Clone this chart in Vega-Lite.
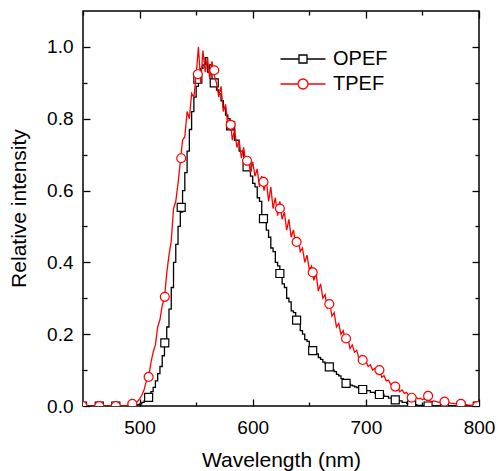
{
  "$schema": "https://vega.github.io/schema/vega-lite/v6.json",
  "width": 396,
  "height": 395,
  "autosize": {"type": "none"},
  "padding": {"left": 83, "top": 11, "right": 19, "bottom": 65},
  "config": {
    "font": "Liberation Sans",
    "view": {"stroke": "black", "strokeWidth": 1.5},
    "axis": {
      "grid": false,
      "domain": false,
      "tickColor": "black",
      "tickWidth": 1.3,
      "labelColor": "black",
      "labelFont": "Liberation Sans",
      "labelFontSize": 19,
      "labelOverlap": false,
      "labelFlush": false,
      "titleFont": "Liberation Sans",
      "titleFontSize": 21,
      "titleFontWeight": "normal",
      "titleColor": "black"
    }
  },
  "datasets": {
    "lines": [
      {"w": 450, "v": 0, "s": "OPEF"}, {"w": 470, "v": 0, "s": "OPEF"}, {"w": 490, "v": 0, "s": "OPEF"},
      {"w": 494, "v": 0.001, "s": "OPEF"}, {"w": 496, "v": 0.002, "s": "OPEF"}, {"w": 498, "v": 0.004, "s": "OPEF"},
      {"w": 500, "v": 0.006, "s": "OPEF"}, {"w": 502, "v": 0.01, "s": "OPEF"}, {"w": 504, "v": 0.014, "s": "OPEF"},
      {"w": 506, "v": 0.02, "s": "OPEF"}, {"w": 508, "v": 0.026, "s": "OPEF"}, {"w": 510, "v": 0.04, "s": "OPEF"},
      {"w": 512, "v": 0.052, "s": "OPEF"}, {"w": 514, "v": 0.07, "s": "OPEF"}, {"w": 516, "v": 0.09, "s": "OPEF"},
      {"w": 518, "v": 0.11, "s": "OPEF"}, {"w": 520, "v": 0.14, "s": "OPEF"}, {"w": 522, "v": 0.17, "s": "OPEF"},
      {"w": 524, "v": 0.22, "s": "OPEF"}, {"w": 526, "v": 0.27, "s": "OPEF"}, {"w": 528, "v": 0.33, "s": "OPEF"},
      {"w": 530, "v": 0.4, "s": "OPEF"}, {"w": 532, "v": 0.45, "s": "OPEF"}, {"w": 534, "v": 0.5, "s": "OPEF"},
      {"w": 536, "v": 0.54, "s": "OPEF"}, {"w": 538, "v": 0.6, "s": "OPEF"}, {"w": 540, "v": 0.65, "s": "OPEF"},
      {"w": 542, "v": 0.71, "s": "OPEF"}, {"w": 544, "v": 0.77, "s": "OPEF"}, {"w": 546, "v": 0.82, "s": "OPEF"},
      {"w": 548, "v": 0.86, "s": "OPEF"}, {"w": 550, "v": 0.89, "s": "OPEF"}, {"w": 552, "v": 0.91, "s": "OPEF"},
      {"w": 554, "v": 0.94, "s": "OPEF"}, {"w": 556, "v": 0.95, "s": "OPEF"}, {"w": 558, "v": 0.97, "s": "OPEF"},
      {"w": 560, "v": 0.93, "s": "OPEF"}, {"w": 562, "v": 0.95, "s": "OPEF"}, {"w": 564, "v": 0.9, "s": "OPEF"},
      {"w": 566, "v": 0.91, "s": "OPEF"}, {"w": 568, "v": 0.88, "s": "OPEF"}, {"w": 570, "v": 0.87, "s": "OPEF"},
      {"w": 572, "v": 0.85, "s": "OPEF"}, {"w": 574, "v": 0.83, "s": "OPEF"}, {"w": 576, "v": 0.81, "s": "OPEF"},
      {"w": 578, "v": 0.8, "s": "OPEF"}, {"w": 580, "v": 0.77, "s": "OPEF"}, {"w": 582, "v": 0.77, "s": "OPEF"},
      {"w": 584, "v": 0.74, "s": "OPEF"}, {"w": 586, "v": 0.74, "s": "OPEF"}, {"w": 588, "v": 0.71, "s": "OPEF"},
      {"w": 590, "v": 0.71, "s": "OPEF"}, {"w": 592, "v": 0.68, "s": "OPEF"}, {"w": 594, "v": 0.67, "s": "OPEF"},
      {"w": 596, "v": 0.665, "s": "OPEF"}, {"w": 598, "v": 0.64, "s": "OPEF"}, {"w": 600, "v": 0.62, "s": "OPEF"},
      {"w": 602, "v": 0.61, "s": "OPEF"}, {"w": 604, "v": 0.58, "s": "OPEF"}, {"w": 606, "v": 0.57, "s": "OPEF"},
      {"w": 608, "v": 0.53, "s": "OPEF"}, {"w": 610, "v": 0.52, "s": "OPEF"}, {"w": 612, "v": 0.49, "s": "OPEF"},
      {"w": 614, "v": 0.47, "s": "OPEF"}, {"w": 616, "v": 0.44, "s": "OPEF"}, {"w": 618, "v": 0.43, "s": "OPEF"},
      {"w": 620, "v": 0.4, "s": "OPEF"}, {"w": 622, "v": 0.39, "s": "OPEF"}, {"w": 624, "v": 0.37, "s": "OPEF"},
      {"w": 626, "v": 0.34, "s": "OPEF"}, {"w": 628, "v": 0.33, "s": "OPEF"}, {"w": 630, "v": 0.3, "s": "OPEF"},
      {"w": 632, "v": 0.29, "s": "OPEF"}, {"w": 634, "v": 0.265, "s": "OPEF"}, {"w": 636, "v": 0.26, "s": "OPEF"},
      {"w": 638, "v": 0.24, "s": "OPEF"}, {"w": 640, "v": 0.23, "s": "OPEF"}, {"w": 642, "v": 0.21, "s": "OPEF"},
      {"w": 644, "v": 0.2, "s": "OPEF"}, {"w": 646, "v": 0.185, "s": "OPEF"}, {"w": 648, "v": 0.18, "s": "OPEF"},
      {"w": 650, "v": 0.165, "s": "OPEF"}, {"w": 652, "v": 0.16, "s": "OPEF"}, {"w": 654, "v": 0.15, "s": "OPEF"},
      {"w": 656, "v": 0.145, "s": "OPEF"}, {"w": 658, "v": 0.135, "s": "OPEF"}, {"w": 660, "v": 0.13, "s": "OPEF"},
      {"w": 662, "v": 0.122, "s": "OPEF"}, {"w": 664, "v": 0.118, "s": "OPEF"}, {"w": 666, "v": 0.11, "s": "OPEF"},
      {"w": 668, "v": 0.108, "s": "OPEF"}, {"w": 670, "v": 0.1, "s": "OPEF"}, {"w": 672, "v": 0.096, "s": "OPEF"},
      {"w": 674, "v": 0.088, "s": "OPEF"}, {"w": 676, "v": 0.084, "s": "OPEF"}, {"w": 678, "v": 0.076, "s": "OPEF"},
      {"w": 680, "v": 0.072, "s": "OPEF"}, {"w": 682, "v": 0.064, "s": "OPEF"}, {"w": 684, "v": 0.062, "s": "OPEF"},
      {"w": 686, "v": 0.058, "s": "OPEF"}, {"w": 688, "v": 0.056, "s": "OPEF"}, {"w": 690, "v": 0.053, "s": "OPEF"},
      {"w": 692, "v": 0.051, "s": "OPEF"}, {"w": 694, "v": 0.048, "s": "OPEF"}, {"w": 696, "v": 0.047, "s": "OPEF"},
      {"w": 698, "v": 0.044, "s": "OPEF"}, {"w": 700, "v": 0.043, "s": "OPEF"}, {"w": 704, "v": 0.038, "s": "OPEF"},
      {"w": 708, "v": 0.035, "s": "OPEF"}, {"w": 712, "v": 0.032, "s": "OPEF"}, {"w": 716, "v": 0.027, "s": "OPEF"},
      {"w": 720, "v": 0.022, "s": "OPEF"}, {"w": 724, "v": 0.018, "s": "OPEF"}, {"w": 728, "v": 0.014, "s": "OPEF"},
      {"w": 732, "v": 0.01, "s": "OPEF"}, {"w": 736, "v": 0.007, "s": "OPEF"}, {"w": 740, "v": 0.004, "s": "OPEF"},
      {"w": 745, "v": 0.002, "s": "OPEF"}, {"w": 750, "v": 0.001, "s": "OPEF"}, {"w": 755, "v": 0, "s": "OPEF"},
      {"w": 780, "v": 0, "s": "OPEF"}, {"w": 800, "v": 0, "s": "OPEF"},
      {"w": 450, "v": 0, "s": "TPEF"}, {"w": 470, "v": 0, "s": "TPEF"}, {"w": 490, "v": 0, "s": "TPEF"},
      {"w": 492, "v": 0.004, "s": "TPEF"}, {"w": 494, "v": 0.006, "s": "TPEF"}, {"w": 496, "v": 0.008, "s": "TPEF"},
      {"w": 498, "v": 0.012, "s": "TPEF"}, {"w": 500, "v": 0.02, "s": "TPEF"}, {"w": 502, "v": 0.03, "s": "TPEF"},
      {"w": 504, "v": 0.045, "s": "TPEF"}, {"w": 506, "v": 0.07, "s": "TPEF"}, {"w": 508, "v": 0.08, "s": "TPEF"},
      {"w": 510, "v": 0.12, "s": "TPEF"}, {"w": 512, "v": 0.15, "s": "TPEF"}, {"w": 514, "v": 0.17, "s": "TPEF"},
      {"w": 516, "v": 0.22, "s": "TPEF"}, {"w": 518, "v": 0.24, "s": "TPEF"}, {"w": 520, "v": 0.28, "s": "TPEF"},
      {"w": 522, "v": 0.3, "s": "TPEF"}, {"w": 524, "v": 0.37, "s": "TPEF"}, {"w": 526, "v": 0.42, "s": "TPEF"},
      {"w": 528, "v": 0.46, "s": "TPEF"}, {"w": 530, "v": 0.55, "s": "TPEF"}, {"w": 532, "v": 0.57, "s": "TPEF"},
      {"w": 534, "v": 0.62, "s": "TPEF"}, {"w": 536, "v": 0.68, "s": "TPEF"}, {"w": 538, "v": 0.74, "s": "TPEF"},
      {"w": 540, "v": 0.75, "s": "TPEF"}, {"w": 542, "v": 0.82, "s": "TPEF"}, {"w": 544, "v": 0.8, "s": "TPEF"},
      {"w": 546, "v": 0.87, "s": "TPEF"}, {"w": 548, "v": 0.86, "s": "TPEF"}, {"w": 550, "v": 0.92, "s": "TPEF"},
      {"w": 552, "v": 1.0, "s": "TPEF"}, {"w": 554, "v": 0.9, "s": "TPEF"}, {"w": 556, "v": 0.99, "s": "TPEF"},
      {"w": 558, "v": 0.93, "s": "TPEF"}, {"w": 560, "v": 0.97, "s": "TPEF"}, {"w": 562, "v": 0.91, "s": "TPEF"},
      {"w": 564, "v": 0.96, "s": "TPEF"}, {"w": 566, "v": 0.92, "s": "TPEF"}, {"w": 568, "v": 0.9, "s": "TPEF"},
      {"w": 570, "v": 0.86, "s": "TPEF"}, {"w": 572, "v": 0.89, "s": "TPEF"}, {"w": 574, "v": 0.82, "s": "TPEF"},
      {"w": 576, "v": 0.84, "s": "TPEF"}, {"w": 578, "v": 0.78, "s": "TPEF"}, {"w": 580, "v": 0.8, "s": "TPEF"},
      {"w": 582, "v": 0.74, "s": "TPEF"}, {"w": 584, "v": 0.77, "s": "TPEF"}, {"w": 586, "v": 0.72, "s": "TPEF"},
      {"w": 588, "v": 0.74, "s": "TPEF"}, {"w": 590, "v": 0.69, "s": "TPEF"}, {"w": 592, "v": 0.72, "s": "TPEF"},
      {"w": 594, "v": 0.67, "s": "TPEF"}, {"w": 596, "v": 0.69, "s": "TPEF"}, {"w": 598, "v": 0.65, "s": "TPEF"},
      {"w": 600, "v": 0.68, "s": "TPEF"}, {"w": 602, "v": 0.64, "s": "TPEF"}, {"w": 604, "v": 0.66, "s": "TPEF"},
      {"w": 606, "v": 0.61, "s": "TPEF"}, {"w": 608, "v": 0.64, "s": "TPEF"}, {"w": 610, "v": 0.6, "s": "TPEF"},
      {"w": 612, "v": 0.63, "s": "TPEF"}, {"w": 614, "v": 0.57, "s": "TPEF"}, {"w": 616, "v": 0.61, "s": "TPEF"},
      {"w": 618, "v": 0.55, "s": "TPEF"}, {"w": 620, "v": 0.58, "s": "TPEF"}, {"w": 622, "v": 0.53, "s": "TPEF"},
      {"w": 624, "v": 0.57, "s": "TPEF"}, {"w": 626, "v": 0.52, "s": "TPEF"}, {"w": 628, "v": 0.54, "s": "TPEF"},
      {"w": 630, "v": 0.49, "s": "TPEF"}, {"w": 632, "v": 0.52, "s": "TPEF"}, {"w": 634, "v": 0.47, "s": "TPEF"},
      {"w": 636, "v": 0.49, "s": "TPEF"}, {"w": 638, "v": 0.45, "s": "TPEF"}, {"w": 640, "v": 0.47, "s": "TPEF"},
      {"w": 642, "v": 0.43, "s": "TPEF"}, {"w": 644, "v": 0.44, "s": "TPEF"}, {"w": 646, "v": 0.4, "s": "TPEF"},
      {"w": 648, "v": 0.42, "s": "TPEF"}, {"w": 650, "v": 0.38, "s": "TPEF"}, {"w": 652, "v": 0.39, "s": "TPEF"},
      {"w": 654, "v": 0.35, "s": "TPEF"}, {"w": 656, "v": 0.37, "s": "TPEF"}, {"w": 658, "v": 0.32, "s": "TPEF"},
      {"w": 660, "v": 0.34, "s": "TPEF"}, {"w": 662, "v": 0.3, "s": "TPEF"}, {"w": 664, "v": 0.31, "s": "TPEF"},
      {"w": 666, "v": 0.27, "s": "TPEF"}, {"w": 668, "v": 0.29, "s": "TPEF"}, {"w": 670, "v": 0.25, "s": "TPEF"},
      {"w": 672, "v": 0.26, "s": "TPEF"}, {"w": 674, "v": 0.22, "s": "TPEF"}, {"w": 676, "v": 0.23, "s": "TPEF"},
      {"w": 678, "v": 0.2, "s": "TPEF"}, {"w": 680, "v": 0.21, "s": "TPEF"}, {"w": 682, "v": 0.18, "s": "TPEF"},
      {"w": 684, "v": 0.19, "s": "TPEF"}, {"w": 686, "v": 0.16, "s": "TPEF"}, {"w": 688, "v": 0.17, "s": "TPEF"},
      {"w": 690, "v": 0.15, "s": "TPEF"}, {"w": 692, "v": 0.155, "s": "TPEF"}, {"w": 694, "v": 0.13, "s": "TPEF"},
      {"w": 696, "v": 0.14, "s": "TPEF"}, {"w": 698, "v": 0.12, "s": "TPEF"}, {"w": 700, "v": 0.125, "s": "TPEF"},
      {"w": 702, "v": 0.11, "s": "TPEF"}, {"w": 704, "v": 0.115, "s": "TPEF"}, {"w": 706, "v": 0.1, "s": "TPEF"},
      {"w": 708, "v": 0.105, "s": "TPEF"}, {"w": 710, "v": 0.09, "s": "TPEF"}, {"w": 712, "v": 0.1, "s": "TPEF"},
      {"w": 714, "v": 0.08, "s": "TPEF"}, {"w": 716, "v": 0.085, "s": "TPEF"}, {"w": 718, "v": 0.07, "s": "TPEF"},
      {"w": 720, "v": 0.072, "s": "TPEF"}, {"w": 722, "v": 0.06, "s": "TPEF"}, {"w": 724, "v": 0.062, "s": "TPEF"},
      {"w": 726, "v": 0.05, "s": "TPEF"}, {"w": 728, "v": 0.052, "s": "TPEF"}, {"w": 730, "v": 0.04, "s": "TPEF"},
      {"w": 732, "v": 0.045, "s": "TPEF"}, {"w": 734, "v": 0.035, "s": "TPEF"}, {"w": 736, "v": 0.038, "s": "TPEF"},
      {"w": 738, "v": 0.028, "s": "TPEF"}, {"w": 740, "v": 0.03, "s": "TPEF"}, {"w": 742, "v": 0.022, "s": "TPEF"},
      {"w": 744, "v": 0.025, "s": "TPEF"}, {"w": 746, "v": 0.02, "s": "TPEF"}, {"w": 748, "v": 0.022, "s": "TPEF"},
      {"w": 750, "v": 0.018, "s": "TPEF"}, {"w": 752, "v": 0.02, "s": "TPEF"}, {"w": 754, "v": 0.015, "s": "TPEF"},
      {"w": 756, "v": 0.016, "s": "TPEF"}, {"w": 758, "v": 0.012, "s": "TPEF"}, {"w": 760, "v": 0.014, "s": "TPEF"},
      {"w": 765, "v": 0.01, "s": "TPEF"}, {"w": 770, "v": 0.012, "s": "TPEF"}, {"w": 775, "v": 0.008, "s": "TPEF"},
      {"w": 780, "v": 0.006, "s": "TPEF"}, {"w": 785, "v": 0.005, "s": "TPEF"}, {"w": 790, "v": 0.003, "s": "TPEF"},
      {"w": 795, "v": 0.002, "s": "TPEF"}, {"w": 800, "v": 0, "s": "TPEF"}
    ],
    "marks": [
      {"w": 449.6, "v": 0, "s": "OPEF"}, {"w": 464.4, "v": 0, "s": "OPEF"}, {"w": 479, "v": 0, "s": "OPEF"},
      {"w": 493.6, "v": 0, "s": "OPEF"}, {"w": 508, "v": 0.024, "s": "OPEF"}, {"w": 522.3, "v": 0.176, "s": "OPEF"},
      {"w": 536.8, "v": 0.553, "s": "OPEF"}, {"w": 551.5, "v": 0.91, "s": "OPEF"}, {"w": 566, "v": 0.9, "s": "OPEF"},
      {"w": 580.5, "v": 0.78, "s": "OPEF"}, {"w": 595, "v": 0.666, "s": "OPEF"}, {"w": 609.5, "v": 0.522, "s": "OPEF"},
      {"w": 624, "v": 0.369, "s": "OPEF"}, {"w": 638.8, "v": 0.239, "s": "OPEF"}, {"w": 653, "v": 0.154, "s": "OPEF"},
      {"w": 667.7, "v": 0.109, "s": "OPEF"}, {"w": 682.5, "v": 0.063, "s": "OPEF"}, {"w": 697.2, "v": 0.046, "s": "OPEF"},
      {"w": 712, "v": 0.032, "s": "OPEF"}, {"w": 726, "v": 0.017, "s": "OPEF"}, {"w": 740.5, "v": 0.003, "s": "OPEF"},
      {"w": 755, "v": 0, "s": "OPEF"}, {"w": 769.5, "v": 0, "s": "OPEF"}, {"w": 784, "v": 0, "s": "OPEF"},
      {"w": 798.5, "v": 0, "s": "OPEF"},
      {"w": 449.6, "v": 0, "s": "TPEF"}, {"w": 464.4, "v": 0, "s": "TPEF"}, {"w": 479, "v": 0, "s": "TPEF"},
      {"w": 493.6, "v": 0.006, "s": "TPEF"}, {"w": 508, "v": 0.081, "s": "TPEF"}, {"w": 522.3, "v": 0.304, "s": "TPEF"},
      {"w": 536.8, "v": 0.69, "s": "TPEF"}, {"w": 551.5, "v": 0.924, "s": "TPEF"}, {"w": 566, "v": 0.935, "s": "TPEF"},
      {"w": 580.5, "v": 0.783, "s": "TPEF"}, {"w": 595, "v": 0.683, "s": "TPEF"}, {"w": 609.5, "v": 0.624, "s": "TPEF"},
      {"w": 624, "v": 0.55, "s": "TPEF"}, {"w": 638.8, "v": 0.457, "s": "TPEF"}, {"w": 653, "v": 0.372, "s": "TPEF"},
      {"w": 667.7, "v": 0.284, "s": "TPEF"}, {"w": 682.5, "v": 0.188, "s": "TPEF"}, {"w": 697.2, "v": 0.128, "s": "TPEF"},
      {"w": 712, "v": 0.1, "s": "TPEF"}, {"w": 726, "v": 0.054, "s": "TPEF"}, {"w": 740.5, "v": 0.023, "s": "TPEF"},
      {"w": 755, "v": 0.028, "s": "TPEF"}, {"w": 769.5, "v": 0.012, "s": "TPEF"}, {"w": 784, "v": 0.006, "s": "TPEF"},
      {"w": 798.5, "v": 0, "s": "TPEF"}
    ]
  },
  "resolve": {"axis": {"x": "independent", "y": "independent"}},
  "layer": [
    {
      "data": {"name": "lines"},
      "transform": [{"filter": "datum.s === 'OPEF'"}],
      "mark": {"type": "line", "interpolate": "step-after", "strokeWidth": 1.3, "clip": true},
      "encoding": {
        "x": {"field": "w", "type": "quantitative", "scale": {"domain": [450, 800], "nice": false, "zero": false},
          "axis": {"orient": "bottom", "title": "Wavelength (nm)", "values": [500, 600, 700, 800], "format": "d",
            "ticks": false, "tickSize": 0, "labelPadding": 12,
            "titleX": 198, "titleY": 60, "titleBaseline": "alphabetic", "titleAlign": "center"}},
        "y": {"field": "v", "type": "quantitative", "scale": {"domain": [0, 1.1], "nice": false},
          "axis": {"orient": "left", "title": "Relative intensity", "values": [0, 0.2, 0.4, 0.6, 0.8, 1.0], "format": ".1f",
            "ticks": false, "tickSize": 0, "labelPadding": 10,
            "titleX": -58, "titleY": 197, "titleBaseline": "alphabetic", "titleAlign": "center", "titleAngle": -90}},
        "stroke": {"field": "s", "type": "nominal", "scale": {"domain": ["OPEF", "TPEF"], "range": ["black", "#ff0000"]},
          "legend": {"orient": "none", "legendX": 209, "legendY": 37, "title": null, "symbolSize": 400,
            "labelFontSize": 20, "labelFont": "Liberation Sans", "labelColor": "black", "labelOffset": 19, "rowPadding": 4, "padding": 0,
            "encode": {"symbols": {"update": {
              "shape": {"signal": "datum.value === 'OPEF' ? 'M-2.25,0H-0.4M0.4,0H2.25M-0.4,-0.4H0.4V0.4H-0.4Z' : 'M-2.25,0H-0.5M0.5,0H2.25M-0.5,0A0.5,0.5 0 1,0 0.5,0A0.5,0.5 0 1,0 -0.5,0Z'"},
              "fill": {"value": "white"}, "fillOpacity": {"value": 1}, "strokeWidth": {"value": 1.3}, "opacity": {"value": 1}}}}}}
      }
    },
    {
      "data": {"name": "marks"},
      "transform": [{"filter": "datum.s === 'OPEF'"}],
      "mark": {"type": "point", "shape": "square", "size": 64, "fill": "white", "fillOpacity": 1, "opacity": 1, "strokeWidth": 1.2, "clip": true},
      "encoding": {
        "x": {"field": "w", "type": "quantitative", "scale": {"domain": [450, 800], "nice": false, "zero": false},
          "axis": {"orient": "top", "offset": -395, "title": null, "labels": false, "values": [500, 600, 700, 800], "tickSize": 7}},
        "y": {"field": "v", "type": "quantitative", "scale": {"domain": [0, 1.1], "nice": false},
          "axis": {"orient": "right", "offset": -396, "title": null, "labels": false, "values": [0, 0.2, 0.4, 0.6, 0.8, 1.0], "tickSize": 7}},
        "stroke": {"field": "s", "type": "nominal", "scale": {"domain": ["OPEF", "TPEF"], "range": ["black", "#ff0000"]},
          "legend": {"orient": "none", "legendX": 209, "legendY": 37, "title": null, "symbolSize": 400,
            "labelFontSize": 20, "labelFont": "Liberation Sans", "labelColor": "black", "labelOffset": 19, "rowPadding": 4, "padding": 0,
            "encode": {"symbols": {"update": {
              "shape": {"signal": "datum.value === 'OPEF' ? 'M-2.25,0H-0.4M0.4,0H2.25M-0.4,-0.4H0.4V0.4H-0.4Z' : 'M-2.25,0H-0.5M0.5,0H2.25M-0.5,0A0.5,0.5 0 1,0 0.5,0A0.5,0.5 0 1,0 -0.5,0Z'"},
              "fill": {"value": "white"}, "fillOpacity": {"value": 1}, "strokeWidth": {"value": 1.3}, "opacity": {"value": 1}}}}}}
      }
    },
    {
      "data": {"name": "lines"},
      "transform": [{"filter": "datum.s === 'TPEF'"}],
      "mark": {"type": "line", "strokeWidth": 1.3, "clip": true},
      "encoding": {
        "x": {"field": "w", "type": "quantitative", "scale": {"domain": [450, 800], "nice": false, "zero": false},
          "axis": {"orient": "bottom", "offset": -395, "title": null, "labels": false, "values": [500, 600, 700, 800], "tickSize": 7}},
        "y": {"field": "v", "type": "quantitative", "scale": {"domain": [0, 1.1], "nice": false},
          "axis": {"orient": "left", "offset": -396, "title": null, "labels": false, "values": [0, 0.2, 0.4, 0.6, 0.8, 1.0], "tickSize": 7}},
        "stroke": {"field": "s", "type": "nominal", "scale": {"domain": ["OPEF", "TPEF"], "range": ["black", "#ff0000"]},
          "legend": {"orient": "none", "legendX": 209, "legendY": 37, "title": null, "symbolSize": 400,
            "labelFontSize": 20, "labelFont": "Liberation Sans", "labelColor": "black", "labelOffset": 19, "rowPadding": 4, "padding": 0,
            "encode": {"symbols": {"update": {
              "shape": {"signal": "datum.value === 'OPEF' ? 'M-2.25,0H-0.4M0.4,0H2.25M-0.4,-0.4H0.4V0.4H-0.4Z' : 'M-2.25,0H-0.5M0.5,0H2.25M-0.5,0A0.5,0.5 0 1,0 0.5,0A0.5,0.5 0 1,0 -0.5,0Z'"},
              "fill": {"value": "white"}, "fillOpacity": {"value": 1}, "strokeWidth": {"value": 1.3}, "opacity": {"value": 1}}}}}}
      }
    },
    {
      "data": {"name": "marks"},
      "transform": [{"filter": "datum.s === 'TPEF'"}],
      "mark": {"type": "point", "shape": "circle", "size": 80, "fill": "white", "fillOpacity": 1, "opacity": 1, "strokeWidth": 1.2, "clip": true},
      "encoding": {
        "x": {"field": "w", "type": "quantitative", "scale": {"domain": [450, 800], "nice": false, "zero": false},
          "axis": {"orient": "top", "offset": -395, "title": null, "labels": false, "values": [450, 550, 650, 750], "tickSize": 4}},
        "y": {"field": "v", "type": "quantitative", "scale": {"domain": [0, 1.1], "nice": false},
          "axis": {"orient": "right", "offset": -396, "title": null, "labels": false, "values": [0.1, 0.3, 0.5, 0.7, 0.9], "tickSize": 4}},
        "stroke": {"field": "s", "type": "nominal", "scale": {"domain": ["OPEF", "TPEF"], "range": ["black", "#ff0000"]},
          "legend": {"orient": "none", "legendX": 209, "legendY": 37, "title": null, "symbolSize": 400,
            "labelFontSize": 20, "labelFont": "Liberation Sans", "labelColor": "black", "labelOffset": 19, "rowPadding": 4, "padding": 0,
            "encode": {"symbols": {"update": {
              "shape": {"signal": "datum.value === 'OPEF' ? 'M-2.25,0H-0.4M0.4,0H2.25M-0.4,-0.4H0.4V0.4H-0.4Z' : 'M-2.25,0H-0.5M0.5,0H2.25M-0.5,0A0.5,0.5 0 1,0 0.5,0A0.5,0.5 0 1,0 -0.5,0Z'"},
              "fill": {"value": "white"}, "fillOpacity": {"value": 1}, "strokeWidth": {"value": 1.3}, "opacity": {"value": 1}}}}}}
      }
    },
    {
      "data": {"name": "marks"},
      "mark": {"type": "point", "opacity": 0, "size": 1},
      "encoding": {
        "x": {"field": "w", "type": "quantitative", "scale": {"domain": [450, 800], "nice": false, "zero": false},
          "axis": {"orient": "bottom", "offset": -395, "title": null, "labels": false, "values": [450, 550, 650, 750], "tickSize": 4}},
        "y": {"field": "v", "type": "quantitative", "scale": {"domain": [0, 1.1], "nice": false},
          "axis": {"orient": "left", "offset": -396, "title": null, "labels": false, "values": [0.1, 0.3, 0.5, 0.7, 0.9], "tickSize": 4}}
      }
    }
  ]
}
